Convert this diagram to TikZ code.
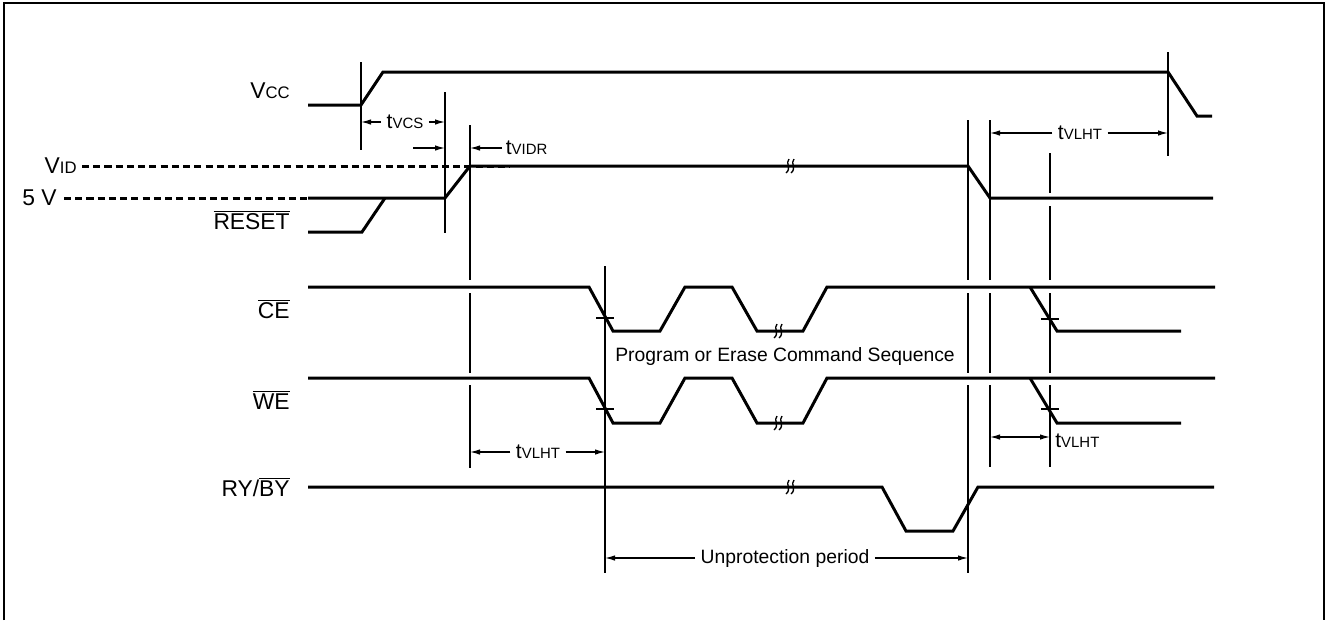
\documentclass[tikz,border=0pt]{standalone}
\usepackage{fontspec}
\setmainfont{Liberation Sans}
\usetikzlibrary{arrows.meta}

\newcommand{\sglabel}{\fontsize{13}{15}\selectfont}
\newcommand{\tname}[1]{{\fontsize{12}{14}\selectfont t}{\fontsize{8.5}{10}\selectfont #1}}

\tikzset{
  brkmark/.pic={
    \draw[line width=0.75pt] (-1,-7) .. controls (-5,-3) and (2,2) .. (-4,7);
    \draw[line width=0.75pt] (4,-7) .. controls (0,-3) and (7,2) .. (1,7);
  }
}

\begin{document}
\begin{tikzpicture}[x=0.02cm,y=-0.02cm,
    sig/.style={line width=1.7pt},
    lvl/.style={line width=1.7pt,dash pattern=on 4pt off 2.4pt},
    guide/.style={line width=0.7pt},
    dimarr/.style={line width=0.7pt,-{Latex[length=2mm,width=1.1mm]}},
    sgname/.style={anchor=east,inner sep=0pt,font=\sglabel},
    tlabel/.style={fill=white,inner xsep=3pt,inner ysep=1pt}]
        \useasboundingbox (0,0) rectangle (1326,620);
        % frame, cut at the bottom
        \draw[line width=0.8pt] (4,620) -- (4,3) -- (1324,3) -- (1324,620);

        % signal names
        \node[sgname] (vcc) at (290,91) {V{\fontsize{9.5}{11}\selectfont CC}};
        \node[sgname] (vid) at (77,166) {V{\fontsize{9.5}{11}\selectfont ID}};
        \node[sgname] (fivev) at (57,198) {5 V};
        \node[sgname] (reset) at (290,220) {$\overline{\mbox{RESET}}$};
        \node[sgname] (ce) at (290,309) {$\overline{\mbox{CE}}$};
        \node[sgname] (we) at (290,400) {$\overline{\mbox{WE}}$};
        \node[sgname] (ryby) at (290,487) {RY/$\overline{\mbox{BY}}$};

        % levels
        \draw[lvl] (82,166) -- (510,166);
        \draw[lvl] (64,198) -- (308,198);

        % waveforms
        \draw[sig] (308,105) -- (361,105) -- (383,72) -- (1168,72) -- (1197,116) -- (1212,116);
        \draw[sig] (308,198) -- (445,198) -- (470,166) -- (968,166) -- (990,198) -- (1213,198);
        \draw[sig] (308,232) -- (362,232) -- (385,198);
        \draw[sig] (308,287) -- (589,287) -- (613,331) -- (660,331) -- (685,287) -- (732,287)
            -- (757,331) -- (803,331) -- (827,287) -- (1215,287);
        \draw[sig] (1030,287) -- (1057,331) -- (1181,331);
        \draw[sig] (308,378) -- (589,378) -- (613,423) -- (660,423) -- (685,378) -- (732,378)
            -- (757,423) -- (803,423) -- (827,378) -- (1215,378);
        \draw[sig] (1030,378) -- (1057,423) -- (1181,423);
        \draw[sig] (308,487) -- (882,487) -- (906,531) -- (953,531) -- (978,487) -- (1214,487);

        % breaks
        \pic at (790,166) {brkmark};
        \pic at (778,331) {brkmark};
        \pic at (778,423) {brkmark};
        \pic at (790,487) {brkmark};

        % crossing ticks
        \draw[guide] (596,318) -- (614,318) (596,409) -- (614,409);
        \draw[guide] (1041,319) -- (1059,319) (1041,409) -- (1059,409);

        % guide lines
        \draw[guide] (361,62) -- (361,150);
        \draw[guide] (445,92) -- (445,233);
        \draw[guide] (470,125) -- (470,280) (470,293) -- (470,373) (470,385) -- (470,468);
        \draw[guide] (605,266) -- (605,573);
        \draw[guide] (968,120) -- (968,280) (968,293) -- (968,373) (968,385) -- (968,573);
        \draw[guide] (990,120) -- (990,280) (990,293) -- (990,373) (990,385) -- (990,467);
        \draw[guide] (1050,153) -- (1050,193) (1050,206) -- (1050,280) (1050,293) -- (1050,373)
            (1050,385) -- (1050,467);
        \draw[guide] (1168,52) -- (1168,156);

        % timing marks
        \coordinate (vcsA) at (361,122);
        \coordinate (vcsB) at (445,122);
        \node[tlabel] (tvcs) at (405,122) {\tname{VCS}};
        \draw[dimarr] (tvcs) -- (vcsA);
        \draw[dimarr] (tvcs) -- (vcsB);

        \coordinate (vidrA) at (413,148);
        \coordinate (vidrB) at (445,148);
        \coordinate (vidrC) at (470,148);
        \node[anchor=west,inner xsep=2pt,inner ysep=0pt] (tvidr) at (502,148) {\tname{VIDR}};
        \draw[dimarr] (vidrA) -- (vidrB);
        \draw[dimarr] (tvidr.west) -- (vidrC);

        \coordinate (lhtA) at (990,133);
        \coordinate (lhtB) at (1168,133);
        \node[tlabel] (tlhtone) at (1080,133) {\tname{VLHT}};
        \draw[dimarr] (tlhtone) -- (lhtA);
        \draw[dimarr] (tlhtone) -- (lhtB);

        \coordinate (lhtC) at (470,452);
        \coordinate (lhtD) at (605,452);
        \node[tlabel] (tlhttwo) at (538,452) {\tname{VLHT}};
        \draw[dimarr] (tlhttwo) -- (lhtC);
        \draw[dimarr] (tlhttwo) -- (lhtD);

        \coordinate (lhtE) at (990,437);
        \coordinate (lhtF) at (1050,437);
        \draw[dimarr] (1020,437) -- (lhtE);
        \draw[dimarr] (1020,437) -- (lhtF);
        \node[anchor=west,inner sep=0pt] (tlhtthree) at (1055,441) {\tname{VLHT}};

        \node[font=\fontsize{11}{13}\selectfont] (seq) at (785,356) {Program or Erase Command Sequence};

        \coordinate (unpA) at (605,558);
        \coordinate (unpB) at (968,558);
        \node[tlabel,font=\fontsize{11}{13}\selectfont] (unprot) at (785,558) {Unprotection period};
        \draw[dimarr] (unprot) -- (unpA);
        \draw[dimarr] (unprot) -- (unpB);
    \end{tikzpicture}
\end{document}
